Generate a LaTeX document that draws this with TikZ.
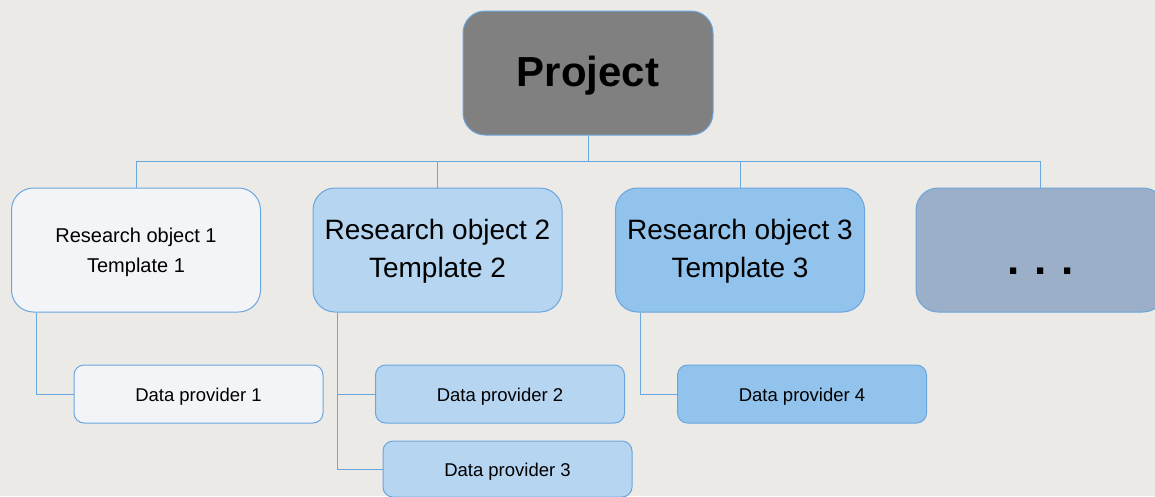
\documentclass[tikz,border=0pt]{standalone}
\usepackage{fontspec}
\setmainfont{Liberation Sans}
\usetikzlibrary{calc}
\definecolor{bg}{HTML}{ECEAE7}
\definecolor{edge}{HTML}{6AA6DE}
\definecolor{projfill}{HTML}{808080}
\definecolor{rofill}{HTML}{F3F4F7}
\definecolor{rtfill}{HTML}{B5D5F1}
\definecolor{rhfill}{HTML}{92C3EC}
\definecolor{dotfill}{HTML}{9BAFC8}
\newcommand{\lowr}[2]{\raisebox{-#1}[\height][\depth]{#2}}
\tikzset{
  box/.style={draw=edge, line width=1pt, inner sep=0pt, align=center, text=black},
  bigbox/.style={box, minimum width=249pt, minimum height=124pt, rounded corners=22pt},
  dpbox/.style={box, minimum width=249pt, minimum height=58pt, rounded corners=10pt, font=\fontsize{18.5}{22}\selectfont},
  conn/.style={draw=edge, line width=1pt}
}
\begin{document}
\begin{tikzpicture}[x=1pt,y=-1pt]
\fill[bg] (0,0) rectangle (1155,496);
\useasboundingbox (0,0) rectangle (1155,496);
\node[box, fill=projfill, minimum width=250pt, minimum height=124pt, rounded corners=22pt, font=\fontsize{42}{50}\selectfont\bfseries] (proj) at (588,73) {\lowr{3pt}{Project}};
\node[bigbox, fill=rofill, font=\fontsize{20}{30}\selectfont] (ro1) at (136,250) {\lowr{2pt}{Research object 1}\\\lowr{2pt}{Template 1}};
\node[bigbox, fill=rtfill, font=\fontsize{28}{38}\selectfont] (ro2) at (437.5,250) {\lowr{1.5pt}{Research object 2}\\\lowr{1.5pt}{Template 2}};
\node[bigbox, fill=rhfill, font=\fontsize{28}{38}\selectfont] (ro3) at (740,250) {\lowr{1.5pt}{Research object 3}\\\lowr{1.5pt}{Template 3}};
\node[bigbox, fill=dotfill, font=\fontsize{44}{50}\selectfont\bfseries] (more) at (1040.5,250) {\lowr{21pt}{.\,\,.\,\,.}};
\node[dpbox, fill=rofill] (dp1) at (198.5,394) {\lowr{2.5pt}{Data provider 1}};
\node[dpbox, fill=rtfill] (dp2) at (500,394) {\lowr{2.5pt}{Data provider 2}};
\node[dpbox, fill=rtfill, minimum height=56pt] (dp3) at (507.5,469) {\lowr{2.5pt}{Data provider 3}};
\node[dpbox, fill=rhfill] (dp4) at (802,394) {\lowr{2.5pt}{Data provider 4}};
\coordinate (bus) at ($(proj.south)+(0,26)$);
\draw[conn] (proj.south) -- (bus);
\draw[conn] (ro1.north) |- (bus);
\draw[conn] (ro2.north) |- (bus);
\draw[conn] (ro3.north) |- (bus);
\draw[conn] (more.north) |- (bus);
\draw[conn] ($(ro1.south west)+(25,0)$) |- (dp1.west);
\draw[conn] ($(ro2.south west)+(25,0)$) |- (dp2.west);
\draw[conn] ($(ro2.south west)+(25,0)$) |- (dp3.west);
\draw[conn] ($(ro3.south west)+(25,0)$) |- (dp4.west);
\end{tikzpicture}
\end{document}
